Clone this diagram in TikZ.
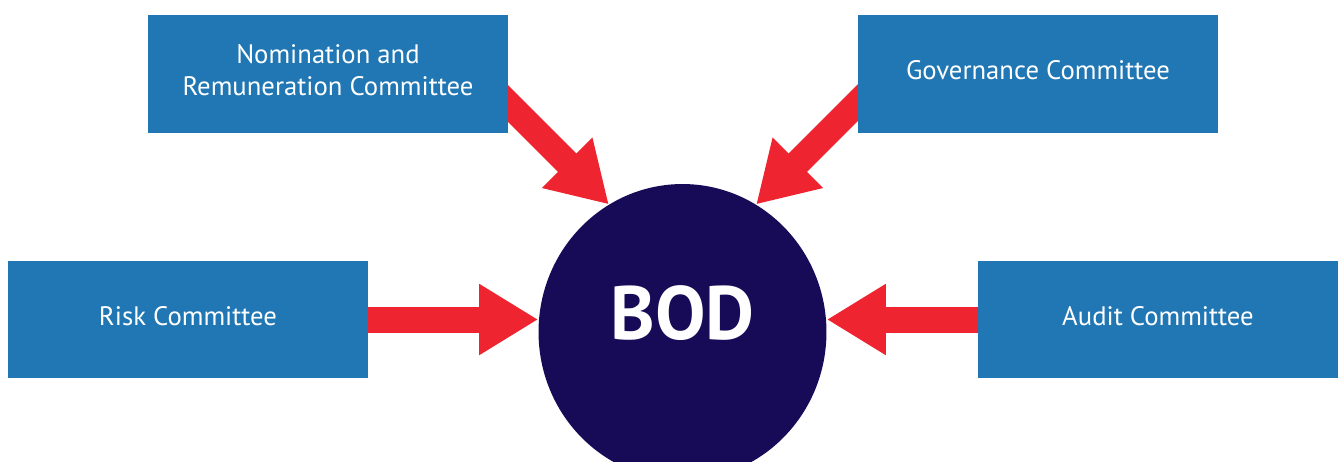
\documentclass[tikz,border=0pt]{standalone}
\usepackage{fontspec}
\setmainfont{PT Sans}
\usetikzlibrary{arrows.meta,calc,backgrounds,shapes.geometric}
\definecolor{boxblue}{RGB}{32,119,180}
\definecolor{arrowred}{RGB}{238,37,48}
\definecolor{bodnavy}{RGB}{23,10,87}

\begin{document}
\begin{tikzpicture}[x=0.02cm, y=-0.02cm,
		committee/.style={fill=boxblue, text=white, minimum width=7.2cm, minimum height=2.36cm, inner sep=0pt, text depth=0.16cm, align=center, font=\fontsize{15.2}{18.3}\selectfont},
		feed/.style={arrowred, line width=0.52cm, -{Triangle[length=1.18cm, width=1.34cm]}}]
			%%%%% START %%%%%
			\useasboundingbox (0, 0) rectangle (1340, 461);
			
			\node[committee] (nom) at (328, 74) {Nomination and\\Remuneration Committee};
			\node[committee] (gov) at (1038, 74) {Governance Committee};
			\node[committee] (risk) at (188, 319.5) {Risk Committee};
			\node[committee] (audit) at (1158, 319.5) {Audit Committee};
			
			\node[fill=bodnavy, ellipse, minimum width=5.76cm, minimum height=5.92cm, inner sep=0pt] (bod) at (682.5, 332) {};
			\node[text=white, font=\fontsize{43}{50}\selectfont\bfseries] (bodlabel) at ($(bod.center)+(0, -19)$) {BOD};
			
			\begin{scope}[on background layer]
				\fill[white] (0, 0) rectangle (1340, 461);
				\draw[feed] ($(bod.120)+(-118, -118)$) -- (bod.120);
				\draw[feed] ($(bod.60)+(118, -118)$) -- (bod.60);
				\draw[feed] (risk.east) -- (risk.east -| bod.west);
				\draw[feed] (audit.west) -- (audit.west -| bod.east);
			\end{scope}
			%%%%% END %%%%%
\end{tikzpicture}
\end{document}
